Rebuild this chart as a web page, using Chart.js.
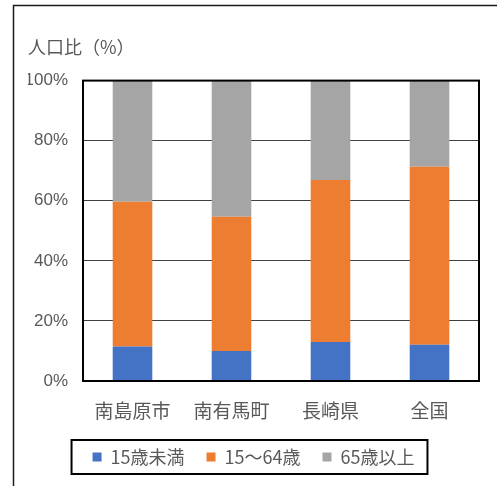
<!DOCTYPE html>
<html>
<head>
<meta charset="utf-8">
<script src="https://cdn.jsdelivr.net/npm/chart.js@4"></script>
<style>
  html, body { margin: 0; padding: 0; background: #fff; }
  #wrap { width: 497px; height: 486px; }
</style>
</head>
<body>
<div id="wrap"><canvas id="popChart" width="497" height="486"></canvas></div>
<script>
// population ratio by age group (%)
const categories = ['南島原市', '南有馬町', '長崎県', '全国'];
const under15 = [11.5, 10.0, 13.0, 12.1];
const age15to64 = [48.2, 44.7, 53.9, 59.2];
const over65 = [40.3, 45.3, 33.1, 28.7];
const seriesNames = ['15歳未満', '15～64歳', '65歳以上'];
const yTickLabels = ['0%', '20%', '40%', '60%', '80%', '100%'];

const textColor = '#595959';
const cjk = '"Noto Sans CJK JP", sans-serif';

// frame lines, plot area border and legend box
const framePlugin = {
    id: 'frames',
    beforeDraw(chart) {
        const c = chart.ctx;
        c.save();
        c.strokeStyle = '#1a1a1a';
        c.lineWidth = 1.5;
        c.beginPath();
        c.moveTo(13.5, 486);
        c.lineTo(13.5, 5.5);
        c.lineTo(497, 5.5);
        c.stroke();
        c.restore();
    },
    afterDatasetsDraw(chart) {
        const a = chart.chartArea;
        const c = chart.ctx;
        c.save();
        c.strokeStyle = '#000';
        c.lineWidth = 2;
        c.strokeRect(a.left, a.top, a.right - a.left, a.bottom - a.top);
        c.restore();
    },
    afterDraw(chart) {
        const boxes = chart.legend.legendHitBoxes;
        if (!boxes || !boxes.length) return;
        const first = boxes[0];
        const last = boxes[boxes.length - 1];
        const cy = first.top + first.height / 2;
        const c = chart.ctx;
        c.save();
        c.strokeStyle = '#000';
        c.lineWidth = 2;
        c.strokeRect(first.left - 21, cy - 17, (last.left + last.width + 13) - (first.left - 21), 34);
        c.restore();
    }
};

const ctx = document.getElementById('popChart').getContext('2d');
const popChart = new Chart(ctx, {
    type: 'bar',
    data: {
        labels: categories,
        datasets: [
            { label: seriesNames[0], data: under15, backgroundColor: '#4472C4' },
            { label: seriesNames[1], data: age15to64, backgroundColor: '#ED7D31' },
            { label: seriesNames[2], data: over65, backgroundColor: '#A5A5A5' }
        ]
    },
    options: {
        responsive: false,
        animation: false,
        layout: { padding: { left: 28, right: 18, top: 36, bottom: 10 } },
        datasets: {
            bar: { categoryPercentage: 1, barPercentage: 0.4 }
        },
        scales: {
            x: {
                stacked: true,
                grid: { display: false, drawTicks: false },
                border: { display: true, color: '#000', width: 2 },
                ticks: {
                    color: textColor,
                    padding: 18,
                    font: { family: cjk, size: 19 }
                },
                afterFit(s) { s.height = 45; }
            },
            y: {
                stacked: true,
                min: 0,
                max: 100,
                grid: { color: '#404040', lineWidth: 1, drawTicks: false },
                border: { display: true, color: '#000', width: 2 },
                ticks: {
                    stepSize: 20,
                    color: textColor,
                    padding: 15,
                    font: { family: '"Liberation Sans Narrow", "Liberation Sans", sans-serif', size: 17 },
                    callback: (v) => yTickLabels[Math.round(v / 20)]
                },
                afterFit(s) { s.width = 55; }
            }
        },
        plugins: {
            title: {
                display: true,
                text: '人口比（%）',
                align: 'start',
                color: textColor,
                font: { family: cjk, size: 18, weight: 'normal' },
                padding: { top: 0, bottom: 23 }
            },
            legend: {
                position: 'bottom',
                labels: {
                    boxWidth: 9,
                    boxHeight: 9,
                    padding: 22,
                    color: textColor,
                    font: { family: cjk, size: 18 }
                }
            },
            tooltip: { enabled: false }
        }
    },
    plugins: [framePlugin]
});
</script>
</body>
</html>
